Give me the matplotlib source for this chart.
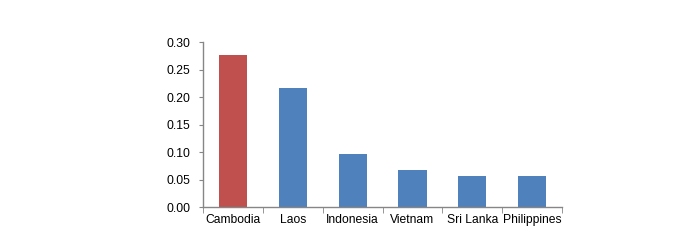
import numpy as np
import matplotlib.pyplot as plt
from matplotlib.ticker import FixedLocator

plt.rcParams['font.family'] = ['Liberation Sans', 'DejaVu Sans']

countries = ["Cambodia", "Laos", "Indonesia", "Vietnam", "Sri Lanka", "Philippines"]
values = [0.277, 0.217, 0.097, 0.068, 0.057, 0.057]
colors = ["#C0504D", "#4F81BD", "#4F81BD", "#4F81BD", "#4F81BD", "#4F81BD"]
yticks = [0.00, 0.05, 0.10, 0.15, 0.20, 0.25, 0.30]

fig = plt.figure(figsize=(7, 2.5), dpi=100)
ax = fig.add_axes([0.29, 0.171, 0.513, 0.66])

x = np.arange(len(countries))
ax.bar(x, values, width=0.47, color=colors)

ax.set_xlim(-0.5, len(countries) - 0.5)
ax.set_ylim(0, 0.30)
ax.set_yticks(yticks)
ax.set_yticklabels([f"{v:.2f}" for v in yticks])
ax.set_xticks(x)
ax.set_xticklabels(countries)
ax.xaxis.set_minor_locator(FixedLocator(np.arange(len(countries) + 1) - 0.5))

axis_col = "#868686"
for s in ["top", "right"]:
    ax.spines[s].set_visible(False)
for s in ["left", "bottom"]:
    ax.spines[s].set_color(axis_col)
    ax.spines[s].set_linewidth(1.0)

ax.tick_params(axis="y", direction="out", length=3, color=axis_col, labelsize=8.7, pad=6)
ax.tick_params(axis="x", which="major", length=0, labelsize=8.7, pad=5)
ax.tick_params(axis="x", which="minor", direction="out", length=4, color=axis_col)

fig.savefig("out.png", dpi=100)
